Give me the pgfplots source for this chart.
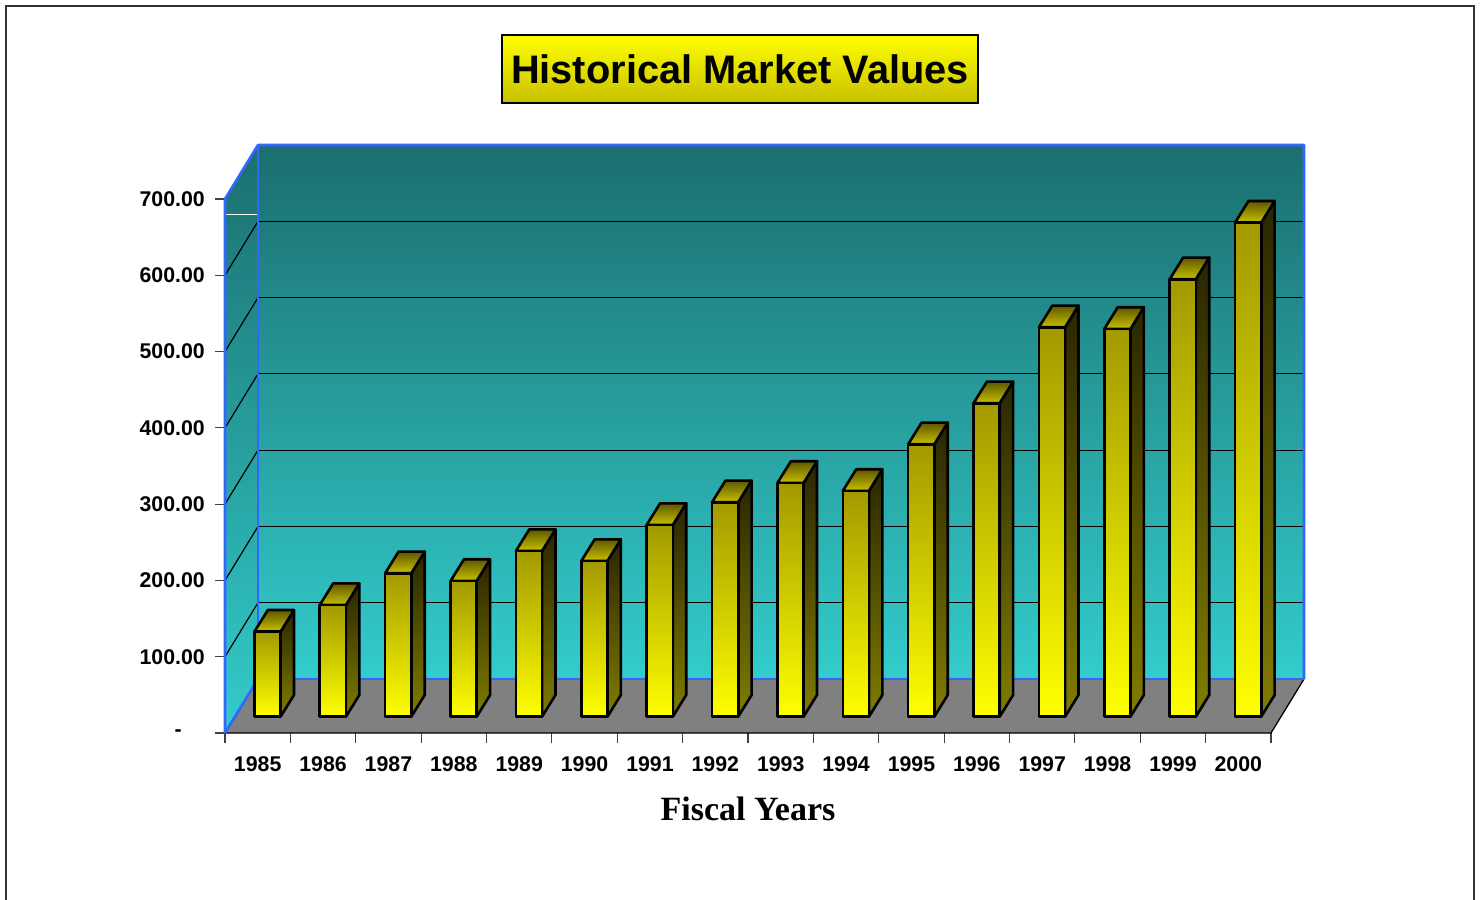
\documentclass[border=0pt]{standalone}
\usepackage{pgfplots}
\pgfplotsset{compat=1.18}
\usepackage{pgfplotstable}
\usepackage{fontspec}
\setmainfont{Liberation Sans}
\newfontfamily\timesfont{Liberation Serif}
\definecolor{frontTop}{HTML}{A29A00}
\definecolor{frontMid}{HTML}{CFC800}
\definecolor{frontBot}{HTML}{FFFF00}
\definecolor{sideTop}{HTML}{2A2600}
\definecolor{sideBot}{HTML}{807C00}
\definecolor{topBack}{HTML}{5E5800}
\definecolor{topFront}{HTML}{C8C000}
\definecolor{wallTop}{HTML}{1B6E6E}
\definecolor{wallBot}{HTML}{33CCCC}
\definecolor{floorGray}{HTML}{808080}
\definecolor{edgeBlue}{HTML}{3366FF}
\definecolor{titleBot}{HTML}{C8C000}

\pgfplotstableread{
i v
0 111.4
1 146.4
2 188.0
3 177.9
4 217.2
5 204.1
6 251.3
7 281.1
8 306.4
9 295.9
10 357.1
11 410.9
12 510.5
13 508.3
14 573.4
15 647.6
}\mvdata

\begin{document}
\begin{tikzpicture}
\useasboundingbox (0,0) rectangle (1482pt,899pt);
\draw[line width=1.5pt, black!80] (6pt,-10pt) rectangle (1474pt,893pt);
\node[draw=black, line width=1.2pt, top color=yellow, bottom color=titleBot,
      minimum width=476pt, minimum height=68pt, inner sep=0pt,
      font=\fontsize{39.8}{44}\selectfont\bfseries] at (740pt,830pt) {Historical Market Values};
\begin{axis}[
  at={(225pt,166pt)}, anchor=south west,
  scale only axis, width=1079pt, height=588pt,
  xmin=-0.5, xmax=16.005, ymin=0, ymax=770.8,
  clip=false,
  axis line style={draw=none},
  xtick={0,...,15},
  xticklabels={1985,1986,1987,1988,1989,1990,1991,1992,1993,1994,1995,1996,1997,1998,1999,2000},
  minor xtick={-0.5,0.5,...,15.5},
  ytick={0,100,...,700},
  yticklabels={{-\kern 23pt},100.00,200.00,300.00,400.00,500.00,600.00,700.00},
  xtick pos=left, ytick pos=left,
  tick align=outside,
  major tick length=10pt, minor tick length=10pt,
  x tick style={draw=none},
  minor x tick style={draw=black!75, line width=1.2pt},
  y tick style={draw=black!75, line width=1.2pt},
  ticklabel style={font=\fontsize{21.3}{24}\selectfont\bfseries},
  yticklabel style={anchor=east, inner sep=0pt, xshift=-10pt},
  xticklabel style={anchor=north, inner sep=0pt, yshift=-13pt},
  xlabel={\timesfont\bfseries Fiscal Years},
  xlabel style={font=\fontsize{34}{38}\selectfont, at={(axis cs:7.5,0)}, anchor=center, yshift=-76pt},
]
% back wall
\addplot[draw=none, top color=wallTop, bottom color=wallBot] coordinates {(0.005,70.8) (16.005,70.8) (16.005,770.8) (0.005,770.8)} -- cycle;
% left wall
\addplot[draw=none, top color=wallTop, bottom color=wallBot] coordinates {(-0.5,0) (0.005,70.8) (0.005,770.8) (-0.5,700)} -- cycle;
% floor
\addplot[draw=none, fill=floorGray] coordinates {(-0.5,0) (15.5,0) (16.005,70.8) (0.005,70.8)} -- cycle;
% back wall gridlines
\addplot[black, line width=1.2pt] coordinates {(0.005,170.8) (16.005,170.8)};
\addplot[black, line width=1.2pt] coordinates {(0.005,270.8) (16.005,270.8)};
\addplot[black, line width=1.2pt] coordinates {(0.005,370.8) (16.005,370.8)};
\addplot[black, line width=1.2pt] coordinates {(0.005,470.8) (16.005,470.8)};
\addplot[black, line width=1.2pt] coordinates {(0.005,570.8) (16.005,570.8)};
\addplot[black, line width=1.2pt] coordinates {(0.005,670.8) (16.005,670.8)};
% left wall gridlines
\addplot[black, line width=1.2pt] coordinates {(-0.5,100) (0.005,170.8)};
\addplot[black, line width=1.2pt] coordinates {(-0.5,200) (0.005,270.8)};
\addplot[black, line width=1.2pt] coordinates {(-0.5,300) (0.005,370.8)};
\addplot[black, line width=1.2pt] coordinates {(-0.5,400) (0.005,470.8)};
\addplot[black, line width=1.2pt] coordinates {(-0.5,500) (0.005,570.8)};
\addplot[black, line width=1.2pt] coordinates {(-0.5,600) (0.005,670.8)};
% small white mark on the left wall
\addplot[white, line width=1.2pt] coordinates {(-0.5,680) (0.005,680)};
% floor edges
\addplot[black, line width=1.3pt] coordinates {(-0.5,0) (15.5,0) (16.005,70.8)};
% blue edges
\addplot[edgeBlue, line width=2.6pt, line join=round] coordinates {(-0.5,0) (-0.5,700) (0.005,770.8) (16.005,770.8) (16.005,70.8)};
\addplot[edgeBlue, line width=2.6pt] coordinates {(0.005,70.8) (0.005,770.8)};
\addplot[edgeBlue, line width=2.6pt] coordinates {(0.005,70.8) (16.005,70.8)};
\addplot[edgeBlue, line width=2.6pt] coordinates {(-0.5,0) (0.005,70.8)};
% bars
\pgfplotsinvokeforeach{0,...,15}{%
  \pgfplotstablegetelem{#1}{v}\of\mvdata
  \pgfmathsetmacro\yt{21.4+\pgfplotsretval}%
  \pgfmathsetmacro\ytb{\yt+28.4}%
  \pgfmathsetmacro\xl{#1-0.05}%
  \pgfmathsetmacro\xr{#1+0.35}%
  \pgfmathsetmacro\xlb{#1+0.155}%
  \pgfmathsetmacro\xrb{#1+0.555}%
  \edef\temp{%
   \noexpand\addplot[draw=black, line width=2.6pt, line join=round, top color=sideTop, bottom color=sideBot] coordinates {(\xr,21.4) (\xrb,49.8) (\xrb,\ytb) (\xr,\yt)} -- cycle;
   \noexpand\addplot[draw=black, line width=2.6pt, line join=round, top color=topBack, bottom color=topFront] coordinates {(\xl,\yt) (\xr,\yt) (\xrb,\ytb) (\xlb,\ytb)} -- cycle;
   \noexpand\addplot[draw=black, line width=2.6pt, line join=round, top color=frontTop, middle color=frontMid, bottom color=frontBot] coordinates {(\xl,21.4) (\xr,21.4) (\xr,\yt) (\xl,\yt)} -- cycle;
  }\temp
}
\end{axis}
\end{tikzpicture}
\end{document}
